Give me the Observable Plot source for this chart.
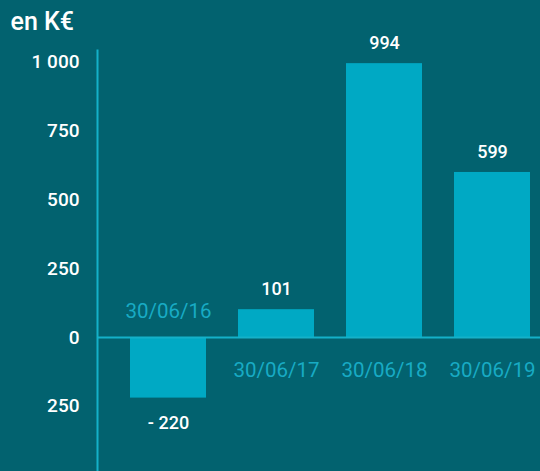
<!DOCTYPE html>
<html>
<head>
<meta charset="utf-8">
<script src="https://cdn.jsdelivr.net/npm/d3@7"></script>
<script src="https://cdn.jsdelivr.net/npm/@observablehq/plot@0.6"></script>
<style>
  html, body { margin: 0; padding: 0; background: #02626f; }
  #chart { width: 540px; height: 471px; }
</style>
</head>
<body>
<div id="chart"></div>
<script>
const categories = ["30/06/16", "30/06/17", "30/06/18", "30/06/19"];
const values = [-220, 101, 994, 599];
const yTicks = [-250, 0, 250, 500, 750, 1000];
const title = "en K€";

const data = categories.map((c, i) => ({cat: c, value: values[i]}));
const fmtThousands = d3.formatLocale({decimal: ",", thousands: " ", grouping: [3], currency: ["", " €"]}).format(",d");
const tickFmt = d => fmtThousands(Math.abs(d));
const valueFmt = d => d.value < 0 ? "- " + fmtThousands(-d.value) : fmtThousands(d.value);

const bg = "#02626f";
const barColor = "#00a9c4";
const lineColor = "#14b1c9";
const catColor = "#18abc4";
const font = "Roboto, 'Open Sans', sans-serif";

const pos = data.filter(d => d.value >= 0);
const neg = data.filter(d => d.value < 0);

const chart = Plot.plot({
  width: 540,
  height: 471,
  marginTop: 50,
  marginBottom: 0,
  marginLeft: 97,
  marginRight: 0,
  style: {background: bg, fontFamily: font},
  x: {type: "band", domain: categories, paddingInner: 0.3, paddingOuter: 0.195, align: 0.76, axis: null},
  y: {domain: [-486.4, 1041.7], axis: null},
  marks: [
    Plot.axisY({ticks: yTicks, tickFormat: tickFmt, tickSize: 0, tickPadding: 18, fill: "white", fontSize: 19, fontWeight: 500, anchor: "left", label: null}),
    Plot.barY(data, {x: "cat", y: "value", fill: barColor}),
    Plot.ruleY([0], {stroke: lineColor, strokeWidth: 2}),
    Plot.frame({anchor: "left", stroke: lineColor, strokeWidth: 2}),
    Plot.text(pos, {x: "cat", y: "value", text: valueFmt, dy: -20, fill: "white", fontSize: 18, fontWeight: 500}),
    Plot.text(neg, {x: "cat", y: "value", text: valueFmt, dy: 25, fill: "white", fontSize: 18, fontWeight: 500}),
    Plot.text(pos, {x: "cat", y: 0, text: "cat", dy: 33, fill: catColor, fontSize: 20.5}),
    Plot.text(neg, {x: "cat", y: 0, text: "cat", dy: -26, fill: catColor, fontSize: 20.5}),
    Plot.text([title], {frameAnchor: "top-left", dx: -87, dy: -28.5, textAnchor: "start", lineAnchor: "middle", fill: "white", fontSize: 25, fontWeight: 500})
  ]
});
document.getElementById("chart").appendChild(chart);
</script>
</body>
</html>
